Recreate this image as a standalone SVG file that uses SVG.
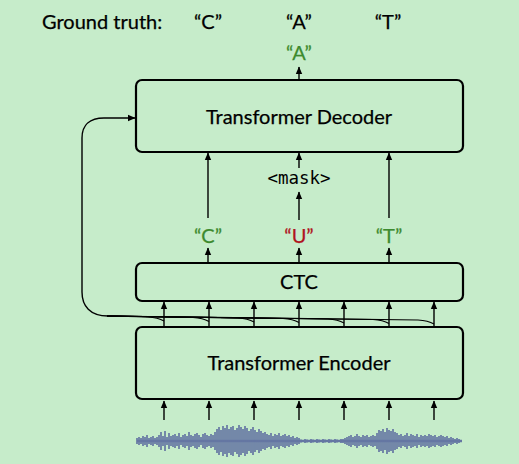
<svg xmlns="http://www.w3.org/2000/svg" width="519" height="464" viewBox="0 0 519 464">
<defs>
<marker id="ah" markerWidth="8" markerHeight="8" refX="7" refY="4" orient="auto" markerUnits="userSpaceOnUse"><path d="M0,0.8 L7.5,4 L0,7.2 z" fill="#000"/></marker>
<style>
.box{fill:none;stroke:#000;stroke-width:2.2}
.t{font-family:Lato,"Liberation Sans",sans-serif;fill:#000;text-anchor:middle;stroke:#000;stroke-width:0.25}
.big{font-size:20px}
.q{font-size:20px}
.g{fill:#3d8a2e;stroke:#3d8a2e}
.r{fill:#b0141e;stroke:#b0141e}
.mono{font-family:"DejaVu Sans Mono","Liberation Mono",monospace;font-size:17.5px;text-anchor:middle;fill:#000}
.a{stroke:#000;stroke-width:1.4;fill:none;marker-end:url(#ah)}
.l{stroke:#000;stroke-width:1.1;fill:none}
</style>
</defs>
<rect width="519" height="464" fill="#c6ecca"/>

<g id="groundtruth">
<text class="t q" x="42" y="29" style="text-anchor:start">Ground truth:</text>
<text class="t q" x="208" y="29">“C”</text>
<text class="t q" x="299" y="29">“A”</text>
<text class="t q" x="388" y="29">“T”</text>
</g>

<g id="output-A"><text class="t q g" x="299" y="60">“A”</text></g>

<g id="decoder">
<rect class="box" x="136" y="80" width="327" height="72" rx="6"/>
<text class="t big" x="299" y="124">Transformer Decoder</text>
</g>

<g id="mask"><text class="mono" x="299" y="184">&lt;mask&gt;</text></g>

<g id="label-C"><text class="t q g" x="208" y="243">“C”</text></g>
<g id="label-U"><text class="t q r" x="299" y="243">“U”</text></g>
<g id="label-T"><text class="t q g" x="389" y="243">“T”</text></g>

<g id="ctc">
<rect class="box" x="136" y="263" width="327" height="38" rx="6"/>
<text class="t big" x="299" y="289">CTC</text>
</g>

<g id="encoder">
<rect class="box" x="136" y="327" width="327" height="72" rx="6"/>
<text class="t big" x="299" y="370">Transformer Encoder</text>
</g>

<g id="waveform" stroke="#6577a3" stroke-width="1.7" fill="none">
<path d="M137 441H462" stroke-width="2.5"/>
<path d="M137 438v6M139 437v8M141 438v6M143 436v10M145 437v8M147 435v12M149 438v6M151 437v8M153 436v10M155 438v6M157 437v8M159 435v12M161 432v18M163 436v10M165 431v20M167 437v8M169 433v16M171 436v10M173 435v12M175 434v14M177 436v10M179 433v16M181 437v8M183 435v12M185 434v14M187 436v10M189 432v18M191 435v12M193 436v10M195 434v14M197 433v16M199 435v12M201 437v8M203 434v14M205 433v16M207 435v12M209 436v10M211 434v14M213 435v12M215 432v18M217 429v24M219 427v28M221 430v22M223 426v30M225 428v26M227 425v32M229 429v24M231 427v28M233 426v30M235 430v22M237 428v26M239 425v32M241 427v28M243 429v24M245 426v30M247 428v26M249 431v20M251 429v24M253 427v28M255 430v22M257 432v18M259 429v24M261 431v20M263 433v16M265 432v18M267 434v14M269 435v12M271 433v16M273 436v10M275 434v14M277 435v12M279 433v16M281 436v10M283 435v12M285 434v14M287 436v10M289 435v12M291 437v8M293 436v10M295 438v6M297 437v8M299 438v6M301 439.5v3M303 440v2M305 439v4M307 439.5v3M309 440v2M311 439v4M313 439.5v3M315 440v2M317 439v4M319 439.5v3M321 440v2M323 439v4M325 439.5v3M327 440v2M329 439v4M331 439.5v3M333 440v2M335 439v4M337 439.5v3M339 440v2M341 439v4M343 439v4M345 438v6M347 437v8M349 436v10M351 435v12M353 437v8M355 436v10M357 434v14M359 436v10M361 437v8M363 435v12M365 436v10M367 435v12M369 437v8M371 436v10M373 435v12M375 436v10M377 433v16M379 430v22M381 431v20M383 429v24M385 432v18M387 428v26M389 430v22M391 431v20M393 429v24M395 432v18M397 433v16M399 435v12M401 434v14M403 436v10M405 435v12M407 433v16M409 436v10M411 434v14M413 435v12M415 436v10M417 434v14M419 437v8M421 435v12M423 436v10M425 435v12M427 436v10M429 434v14M431 435v12M433 436v10M435 435v12M437 437v8M439 436v10M441 435v12M443 436v10M445 437v8M447 436v10M449 438v6M451 437v8M453 438v6M455 439v4M457 438v6M459 439v4M461 440v2"/>
</g>

<g id="connectors">
<path class="a" d="M299 80V67"/>
<path class="a" d="M208 218V153"/>
<path class="a" d="M389 218V153"/>
<path class="a" d="M299 168V153"/>
<path class="a" d="M299 220V192"/>
<path class="a" d="M208 263V248"/>
<path class="a" d="M299 263V248"/>
<path class="a" d="M389 263V248"/>
<path class="a" d="M164 327V302"/>
<path class="a" d="M209 327V302"/>
<path class="a" d="M254 327V302"/>
<path class="a" d="M299 327V302"/>
<path class="a" d="M344 327V302"/>
<path class="a" d="M389 327V302"/>
<path class="a" d="M434 327V302"/>
<path class="a" d="M164 420V401"/>
<path class="a" d="M209 420V401"/>
<path class="a" d="M254 420V401"/>
<path class="a" d="M299 420V401"/>
<path class="a" d="M344 420V401"/>
<path class="a" d="M389 420V401"/>
<path class="a" d="M434 420V401"/>
<path class="l" d="M164 321Q158 317.5 148 317L107 316"/>
<path class="l" d="M209 321.5Q203 318 193 317.5L107 316"/>
<path class="l" d="M254 322Q248 318.5 238 318L107 316"/>
<path class="l" d="M299 322.5Q293 319 283 318.5L107 316"/>
<path class="l" d="M344 323Q338 319.5 328 319L107 316"/>
<path class="l" d="M389 323.5Q383 320 373 319.5L107 316"/>
<path class="l" d="M434 324Q428 320.5 418 320L107 316"/>
<path class="a" d="M108 316C90 316 82 306 82 292L82 138C82 125 90 118 104 118L135 118"/>
</g>
</svg>
